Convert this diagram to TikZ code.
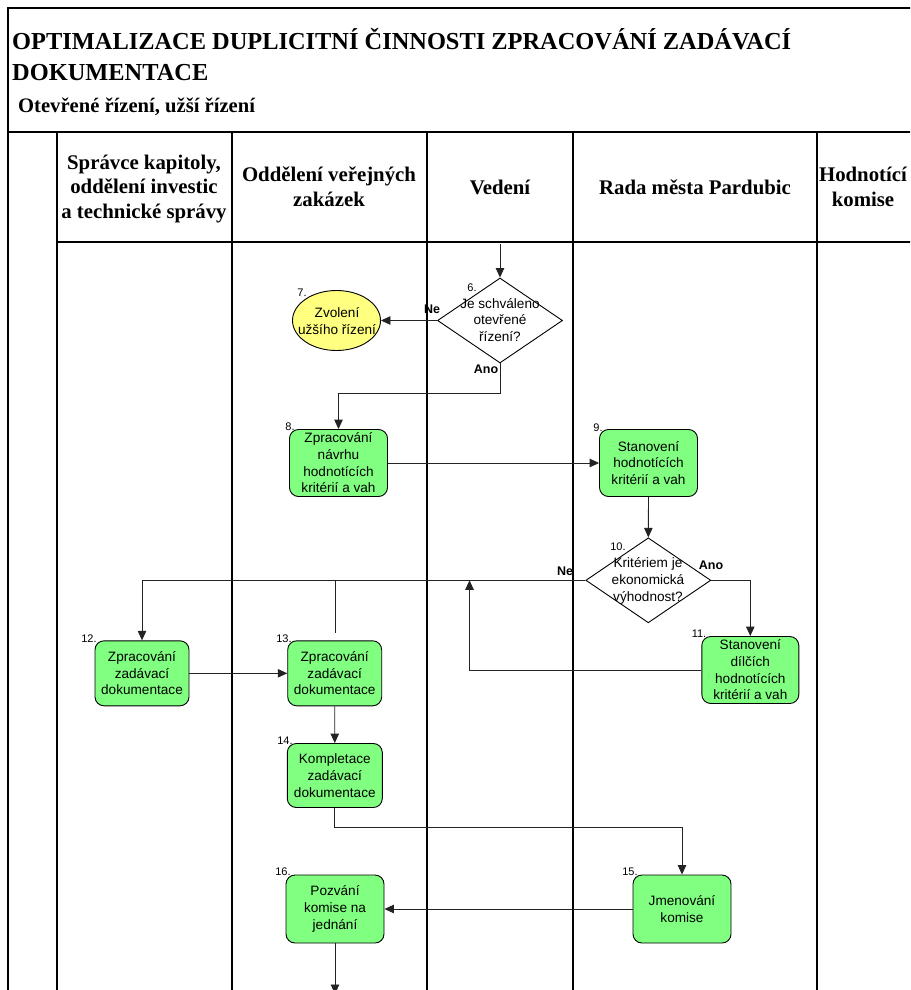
\documentclass[tikz,border=0pt]{standalone}
\usepackage{fontspec}
\setmainfont{Liberation Serif}
\newfontfamily\arialf{Liberation Sans}
\usetikzlibrary{shapes.geometric,arrows.meta,calc}
\definecolor{procgreen}{RGB}{128,255,128}
\definecolor{termyellow}{RGB}{255,255,128}
\definecolor{connc}{RGB}{35,35,35}
\begin{document}
\begin{tikzpicture}[x=1pt,y=-1pt,
  lane/.style={line width=1.4pt, black},
  conn/.style={line width=0.9pt, connc},
  arr/.style={conn, -{Triangle[length=9.5pt,width=8.5pt]}},
  proc/.style={draw, line width=0.9pt, fill=procgreen, rounded corners=9pt,
    inner sep=0pt, align=center, font=\arialf\fontsize{13.6}{16.7}\selectfont},
  decis/.style={draw, line width=0.9pt, diamond, fill=white, inner sep=0pt,
    minimum width=125pt, minimum height=85pt},
  term/.style={draw, line width=0.9pt, ellipse, fill=termyellow, inner sep=0pt,
    minimum width=88pt, minimum height=60pt},
  ntext/.style={inner sep=0pt, align=center, font=\arialf\fontsize{13.6}{16.7}\selectfont},
  numlab/.style={inner sep=0pt, font=\arialf\fontsize{11}{13}\selectfont},
  yn/.style={inner sep=0pt, font=\arialf\bfseries\fontsize{12.5}{14}\selectfont},
  hdr/.style={inner sep=0pt, align=center, font=\bfseries\fontsize{20.8}{24.5}\selectfont},
  ttl/.style={inner sep=0pt, anchor=base west, font=\bfseries\fontsize{24.4}{30}\selectfont}
]
\useasboundingbox (0,0) rectangle (910,990);
\clip (0,0) rectangle (910,990);

% frame and lanes
\draw[line width=1.4pt] (8,990) -- (8,8) -- (912,8);
\draw[line width=2.4pt] (8,132) -- (912,132);
\draw[lane] (57,242) -- (912,242);
\foreach \xx in {57,232,427,573,817} \draw[lane] (\xx,132) -- (\xx,992);

% title
\node[ttl] (t1) at (12,49) {OPTIMALIZACE DUPLICITNÍ ČINNOSTI ZPRACOVÁNÍ ZADÁVACÍ};
\node[ttl] (t2) at (12,81) {DOKUMENTACE};
\node[ttl, font=\bfseries\fontsize{20.6}{24}\selectfont] (t3) at (18,112) {Otevřené řízení, užší řízení};

% headers
\node[hdr] (h1) at (144,189) {Správce kapitoly,\\oddělení investic\\a technické správy};
\node[hdr] (h2) at (329,187) {Oddělení veřejných\\zakázek};
\node[hdr] (h3) at (500,187) {Vedení};
\node[hdr] (h4) at (695,187) {Rada města Pardubic};
\node[hdr] (h5) at (863,187) {Hodnotící\\komise};

% shapes
\node[decis] (d6) at (500,320.5) {};
\node[ntext] (t6) at (500,320) {Je schváleno\\otevřené\\řízení?};
\node[numlab] (n6) at (472,288) {6.};

\node[term] (e7) at (336.5,320.5) {};
\node[ntext] (t7) at (337,321) {Zvolení\\užšího řízení};
\node[numlab] (n7) at (302,293) {7.};

\node[proc, minimum width=98pt, minimum height=67pt] (b8) at (338.5,463) {Zpracování\\návrhu\\hodnotících\\kritérií a vah};
\node[numlab] (n8) at (290,427) {8.};

\node[proc, minimum width=98pt, minimum height=67pt] (b9) at (648.5,463) {Stanovení\\hodnotících\\kritérií a vah};
\node[numlab] (n9) at (598,428) {9.};

\node[decis] (d10) at (648.3,580.3) {};
\node[ntext] (t10) at (648,581) {Kritériem je\\ekonomická\\výhodnost?};
\node[numlab] (n10) at (618,547) {10.};

\node[proc, minimum width=97pt, minimum height=67pt] (b11) at (750.3,670) {Stanovení\\dílčích\\hodnotících\\kritérií a vah};
\node[numlab] (n11) at (699,634) {11.};

\node[proc, minimum width=94pt, minimum height=65pt] (b12) at (142,673.3) {Zpracování\\zadávací\\dokumentace};
\node[numlab] (n12) at (89,639) {12.};

\node[proc, minimum width=94pt, minimum height=65pt] (b13) at (334.7,673.3) {Zpracování\\zadávací\\dokumentace};
\node[numlab] (n13) at (284,639) {13.};

\node[proc, minimum width=95pt, minimum height=64pt] (b14) at (334.8,775.5) {Kompletace\\zadávací\\dokumentace};
\node[numlab] (n14) at (285,741) {14.};

\node[proc, minimum width=98pt, minimum height=68pt] (b15) at (682,909) {Jmenování\\komise};
\node[numlab] (n15) at (630,872) {15.};

\node[proc, minimum width=98pt, minimum height=68pt] (b16) at (335,909) {Pozvání\\komise na\\jednání};
\node[numlab] (n16) at (283,872) {16.};

% yes / no labels
\node[yn] (ne6) at (432,309) {Ne};
\node[yn] (ano6) at (486,369) {Ano};
\node[yn] (ne10) at (565,571) {Ne};
\node[yn] (ano10) at (711,565) {Ano};

% connectors
\coordinate (in6) at (500,244);
\draw[arr] (in6) -- (d6.north);
\draw[arr] (d6.west) -- (e7.east);
\draw[arr] (d6.south) -- ++(0,30) -| (b8.north);
\draw[arr] (b8.east) -- (b9.west);
\draw[arr] (b9.south) -- (d10.north);
\draw[arr] (d10.west) -| (b12.north);
\coordinate (s1) at (335,580.3);
\coordinate (s2) at (335,633);
\draw[conn] (s1) -- (s2);
\draw[arr] (d10.east) -| (b11.north);
\coordinate (j1) at (469.5,580.3);
\draw[arr] (b11.west) -| (j1);
\draw[arr] (b12.east) -- (b13.west);
\draw[arr] (b13.south) -- (b14.north);
\draw[arr] (b14.south) -- ++(0,19) -| (b15.north);
\draw[arr] (b15.west) -- (b16.east);
\coordinate (out16) at (335,994);
\draw[arr] (b16.south) -- (out16);
\end{tikzpicture}
\end{document}
